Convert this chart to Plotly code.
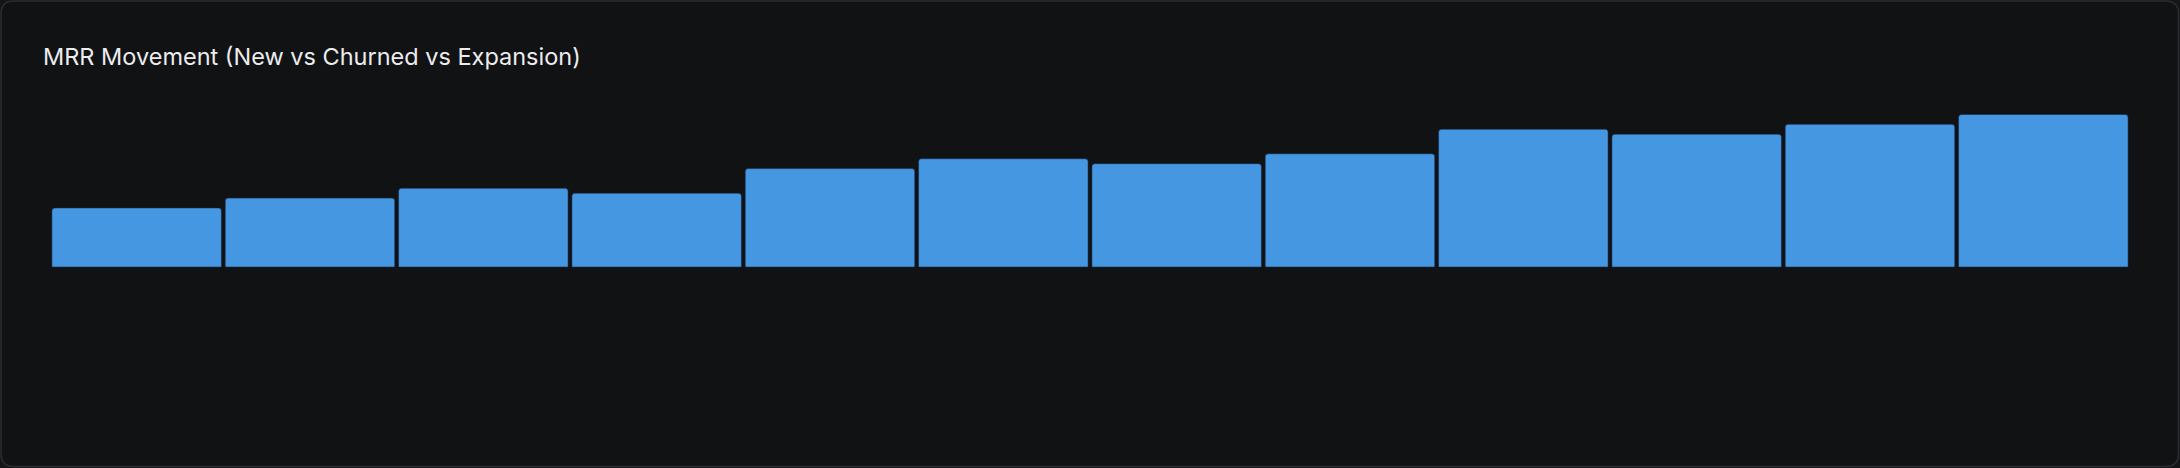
import plotly.graph_objects as go

# ---- data ----
months = ["Jan", "Feb", "Mar", "Apr", "May", "Jun", "Jul", "Aug", "Sep", "Oct", "Nov", "Dec"]
new_mrr = [12000, 14000, 16000, 15000, 20000, 22000, 21000, 23000, 28000, 27000, 29000, 31000]
title_text = "MRR Movement (New vs Churned vs Expansion)"

# ---- layout constants (pixels) ----
W, H = 2180, 468
ML, MR, MT, MB = 50, 50, 100, 28
PW, PH = W - ML - MR, H - MT - MB


def px_x(x):
    return (x - ML) / PW


def px_y(y):
    return (H - MB - y) / PH


def rounded_rect(x0, y0, x1, y1, r):
    X = px_x
    Y = px_y
    rx = r / PW
    ry = r / PH
    a, b, c, d = X(x0), X(x1), Y(y0), Y(y1)
    return (
        f"M {a+rx},{c} L {b-rx},{c} Q {b},{c} {b},{c-ry} "
        f"L {b},{d+ry} Q {b},{d} {b-rx},{d} "
        f"L {a+rx},{d} Q {a},{d} {a},{d+ry} "
        f"L {a},{c-ry} Q {a},{c} {a+rx},{c} Z"
    )


fig = go.Figure()
fig.add_trace(
    go.Bar(
        x=months,
        y=new_mrr,
        name="New",
        marker=dict(color="#4697e2", line=dict(color="rgba(20,40,70,0.55)", width=1), cornerradius=3),
        hoverinfo="x+y",
    )
)

fig.update_layout(
    width=W,
    height=H,
    margin=dict(l=ML, r=MR, t=MT, b=MB),
    paper_bgcolor="#141517",
    plot_bgcolor="rgba(0,0,0,0)",
    bargap=0.022,
    showlegend=False,
    title=dict(
        text=title_text,
        xref="container",
        yref="container",
        x=43 / W,
        xanchor="left",
        y=1 - 57 / H,
        yanchor="middle",
        font=dict(family="Inter", size=23.5, color="#ececee"),
    ),
    xaxis=dict(visible=False, showgrid=False, zeroline=False),
    yaxis=dict(visible=False, showgrid=False, zeroline=False, range=[-35160, 33940]),
    shapes=[
        dict(
            type="path",
            xref="paper",
            yref="paper",
            path=rounded_rect(1, 1, W - 1.5, H - 1.5, 13),
            fillcolor="#111214",
            line=dict(color="#2a2c30", width=1.5),
            layer="below",
        )
    ],
)

fig.write_html(
    "out.html",
    config={"displayModeBar": False},
    post_script="document.body.style.margin='0';document.body.style.overflow='hidden';",
)
